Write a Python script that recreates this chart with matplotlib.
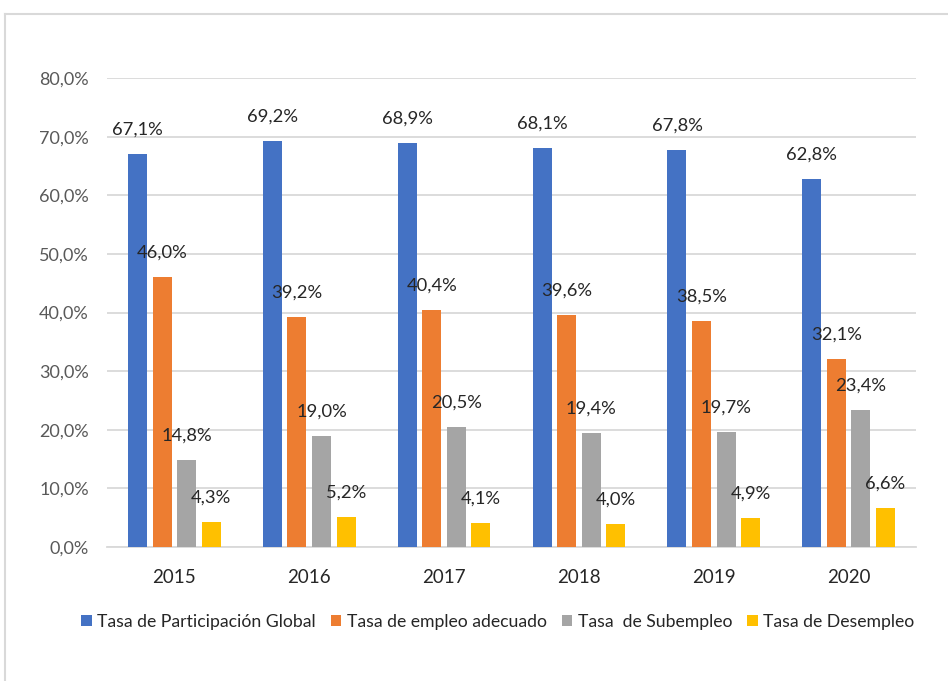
import matplotlib
matplotlib.use("Agg")
import matplotlib.pyplot as plt
import numpy as np
from matplotlib.lines import Line2D

years = ["2015", "2016", "2017", "2018", "2019", "2020"]
series_names = ["Tasa de Participación Global", "Tasa de empleo adecuado",
                "Tasa  de Subempleo", "Tasa de Desempleo"]
participacion = [67.1, 69.2, 68.9, 68.1, 67.8, 62.8]
empleo_adecuado = [46.0, 39.2, 40.4, 39.6, 38.5, 32.1]
subempleo = [14.8, 19.0, 20.5, 19.4, 19.7, 23.4]
desempleo = [4.3, 5.2, 4.1, 4.0, 4.9, 6.6]
yticks = [0, 10, 20, 30, 40, 50, 60, 70, 80]

colors = ["#4472C4", "#ED7D31", "#A5A5A5", "#FFC000"]
series = [participacion, empleo_adecuado, subempleo, desempleo]

plt.rcParams['font.family'] = ['Lato', 'DejaVu Sans']

fig = plt.figure(figsize=(9.48, 6.81), dpi=100)
ax = fig.add_axes([107/948, 1-547/681, (916-107)/948, (547-78)/681])

x = np.arange(len(years))
step = 0.182
width = 0.141
for i, (vals, c) in enumerate(zip(series, colors)):
    pos = x + (i - 1.5) * step
    ax.bar(pos, vals, width=width, color=c, label=series_names[i], zorder=3)
    for px, v in zip(pos, vals):
        ax.annotate(f"{v:.1f}".replace(".", ",") + "%", (px, v),
                    xytext=(0, 17.5), textcoords="offset points",
                    ha="center", va="center", fontsize=13.2, color="#262626", zorder=4)

ax.set_xlim(-0.5, len(years) - 0.5)
ax.set_ylim(0, 80)
ax.set_yticks(yticks)
ax.set_yticklabels([f"{t:.1f}".replace(".", ",") + "%" for t in yticks],
                   fontsize=13, color="#595959")
ax.set_xticks(x)
ax.set_xticklabels(years, fontsize=13.5, color="#262626")
ax.tick_params(axis="both", length=0)
ax.tick_params(axis="y", pad=13)
ax.tick_params(axis="x", pad=16)
ax.grid(axis="y", color="#D9D9D9", linewidth=1.3, zorder=0)
for s in ["top", "right", "left"]:
    ax.spines[s].set_visible(False)
ax.spines["bottom"].set_color("#D9D9D9")
ax.spines["bottom"].set_linewidth(1.3)

fig.legend(loc="center", bbox_to_anchor=(0.525, 1-622/681), ncol=4,
           frameon=False, fontsize=12.7, handlelength=0.6, handleheight=0.6,
           handletextpad=0.3, columnspacing=0.85, labelcolor="#262626")

# outer frame
fig.add_artist(Line2D([5/948, 5/948], [0, 1-14/681], transform=fig.transFigure,
                      color="#D9D9D9", linewidth=1.5))
fig.add_artist(Line2D([5/948, 1], [1-14/681, 1-14/681], transform=fig.transFigure,
                      color="#D9D9D9", linewidth=1.5))

fig.savefig("out.png", dpi=100)
